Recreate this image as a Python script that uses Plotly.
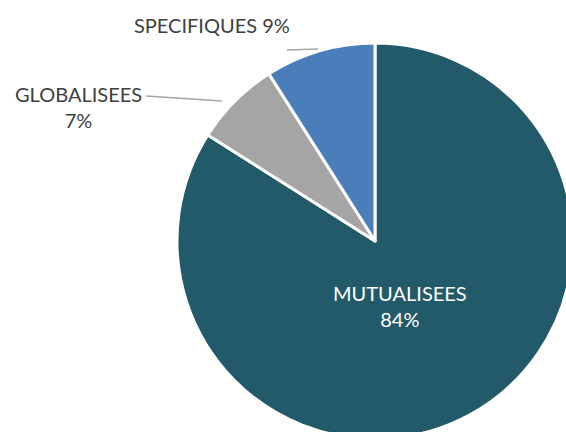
import plotly.graph_objects as go

# share of costs by type
categories = ["MUTUALISEES", "GLOBALISEES", "SPECIFIQUES"]
shares = [84, 7, 9]
colors = ["#225A6A", "#A5A5A5", "#4A7EBB"]

W, H = 600, 470
cx, cy, r = 375, 241, 198


def px_x(x):
    return x / W


def px_y(y):
    return 1 - y / H


fig = go.Figure(go.Pie(
    labels=categories, values=shares, sort=False,
    direction="clockwise", rotation=0,
    marker=dict(colors=colors, line=dict(color="white", width=3)),
    textinfo="none",
    domain=dict(x=[px_x(cx - r), px_x(cx + r)], y=[px_y(cy + r), px_y(cy - r)]),
    showlegend=False, hoverinfo="label+percent",
))

# slice labels
fig.add_annotation(x=px_x(400), y=px_y(306),
                   text=f"{categories[0]}<br>{shares[0]}%",
                   font=dict(color="white"))
fig.add_annotation(x=px_x(212), y=px_y(25),
                   text=f"{categories[2]} {shares[2]}%")
fig.add_annotation(x=px_x(78), y=px_y(107),
                   text=f"{categories[1]}<br>{shares[1]}%")

# leader lines
fig.add_shape(type="line", xref="paper", yref="paper",
              x0=px_x(287), y0=px_y(50), x1=px_x(318), y1=px_y(49),
              line=dict(color="#A6A6A6", width=1.5))
fig.add_shape(type="line", xref="paper", yref="paper",
              x0=px_x(146), y0=px_y(96), x1=px_x(222), y1=px_y(101),
              line=dict(color="#A6A6A6", width=1.5))

fig.update_annotations(xref="paper", yref="paper", showarrow=False,
                       xanchor="center", yanchor="middle")
fig.for_each_annotation(lambda a: a.update(font=dict(
    family="Lato", size=20, color=a.font.color or "#404040")))
fig.update_layout(
    width=W, height=H, margin=dict(l=0, r=0, t=0, b=0),
    paper_bgcolor="white", plot_bgcolor="white",
)

fig.write_html(
    "out.html",
    config={"displayModeBar": False},
    post_script="document.body.style.margin='0';"
                "document.body.style.overflow='hidden';",
)
